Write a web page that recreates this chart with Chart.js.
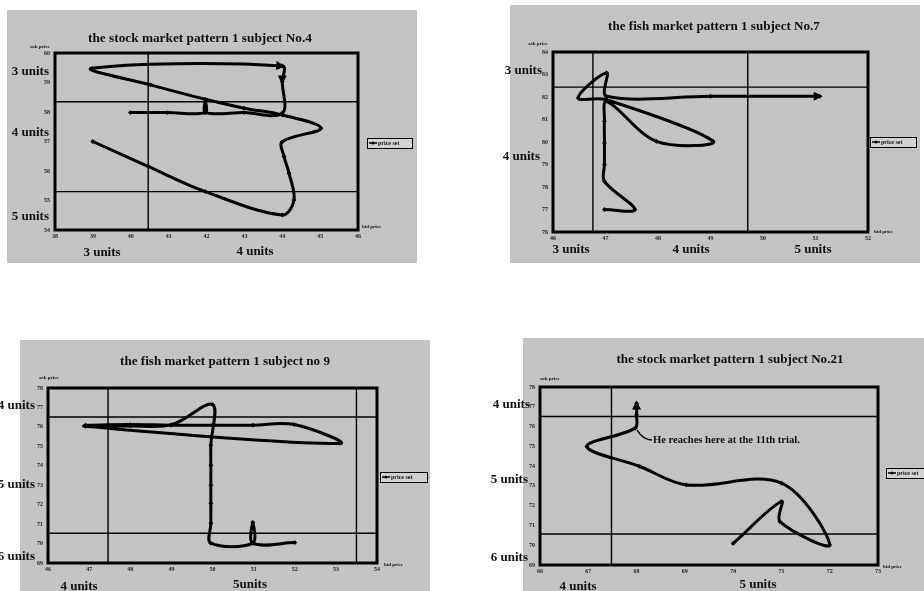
<!DOCTYPE html>
<html><head><meta charset="utf-8"><title>price set patterns</title>
<script src="https://cdn.jsdelivr.net/npm/chart.js@4.4.1/dist/chart.umd.min.js"></script>
<style>
html,body{margin:0;padding:0;background:#fff;}
body{position:relative;width:924px;height:591px;overflow:hidden;}
canvas{position:absolute;display:block;}
#c1{left:0;top:0}#c2{left:462px;top:0}#c3{left:0;top:295px}#c4{left:462px;top:295px}
</style></head><body>
<canvas id="c1" width="462" height="295"></canvas>
<canvas id="c2" width="462" height="295"></canvas>
<canvas id="c3" width="462" height="296"></canvas>
<canvas id="c4" width="462" height="296"></canvas>
<script>
// ---------------- data ----------------
const seriesName = 'price set';
const axisNameX = 'bid price';
const axisNameY = 'ask price';

// Panel 1
const p1Title = 'the stock market pattern 1 subject No.4';
const p1XTicks = [38, 39, 40, 41, 42, 43, 44, 45, 46];
const p1YTicks = [54, 55, 56, 57, 58, 59, 60];
const p1Bid = [39.0, 40.47, 41.97, 44.0, 44.31, 44.18, 44.05, 44.0, 45.02, 44.0, 42.99, 41.97, 40.52, 38.97, 44.0, 44.0, 44.0, 42.99, 41.97, 41.97, 41.97, 40.96, 39.99];
const p1Ask = [57.0, 56.15, 55.3, 54.51, 55.02, 55.92, 56.48, 56.99, 57.45, 57.9, 58.13, 58.43, 58.92, 59.48, 59.56, 59.03, 57.96, 57.98, 57.98, 58.35, 57.98, 57.98, 57.98];
const p1RefBid = [40.46];
const p1RefAsk = [58.35, 55.3];
const p1UnitsLeft = ['3 units', '4 units', '5 units'];
const p1UnitsBottom = ['3 units', '4 units'];
const p1Arrows = [14, 15];

// Panel 2
const p2Title = 'the fish market pattern 1 subject No.7';
const p2XTicks = [46, 47, 48, 49, 50, 51, 52];
const p2YTicks = [76, 77, 78, 79, 80, 81, 82, 83, 84];
const p2Bid = [46.98, 47.56, 46.98, 46.98, 46.98, 46.98, 47.02, 47.97, 49.05, 47.02, 46.48, 47.02, 47.02, 49.0, 51.08];
const p2Ask = [77.0, 77.0, 78.25, 79.0, 79.96, 80.92, 81.81, 80.03, 80.03, 81.88, 81.96, 83.07, 82.03, 82.03, 82.03];
const p2RefBid = [46.76, 49.71];
const p2RefAsk = [82.44];
const p2UnitsLeft = ['3 units', '4 units'];
const p2UnitsBottom = ['3 units', '4 units', '5 units'];
const p2Arrows = [14];

// Panel 3
const p3Title = 'the fish market pattern 1 subject no 9';
const p3XTicks = [46, 47, 48, 49, 50, 51, 52, 53, 54];
const p3YTicks = [69, 70, 71, 72, 73, 74, 75, 76, 77, 78];
const p3Bid = [52.0, 50.98, 50.98, 50.98, 49.96, 49.96, 49.96, 49.96, 49.96, 49.96, 50.0, 49.02, 48.01, 46.91, 53.09, 51.99, 50.98, 50.0, 48.98, 48.0, 46.91];
const p3Ask = [70.05, 70.02, 71.09, 70.02, 70.02, 71.04, 72.07, 73.0, 74.03, 75.06, 77.15, 76.12, 76.05, 76.03, 75.15, 76.12, 76.09, 76.09, 76.09, 76.12, 76.09];
const p3RefBid = [47.46, 53.5];
const p3RefAsk = [76.51, 70.53];
const p3UnitsLeft = ['4 units', '5 units', '6 units'];
const p3UnitsBottom = ['4 units', '5units'];
const p3Arrows = [];

// Panel 4
const p4Title = 'the stock market pattern 1 subject No.21';
const p4XTicks = [66, 67, 68, 69, 70, 71, 72, 73];
const p4YTicks = [69, 70, 71, 72, 73, 74, 75, 76, 77, 78];
const p4Bid = [70.0, 71.0, 70.97, 72.0, 71.0, 69.03, 68.07, 66.97, 67.97, 68.0, 68.0];
const p4Ask = [70.09, 72.21, 71.19, 70.01, 73.14, 73.05, 73.98, 74.99, 75.92, 76.6, 77.16];
const p4RefBid = [67.48];
const p4RefAsk = [76.51, 70.57];
const p4UnitsLeft = ['4 units', '5 units', '6 units'];
const p4UnitsBottom = ['4 units', '5 units'];
const p4Arrows = [10];
const p4Note = 'He reaches here at the 11th trial.';
const p4NoteAt = 8;

// ---------------- layout (positions only) ----------------
const FONT = 'Liberation Serif';
const GREY = '#c3c3c3';
const LAYOUT = {
  c1: {grey:[7,10,410,253], area:[55,358,53,230], title:[200,39,224], ask:[40,47], bid:[362,227],
       legend:[367,138,45,10], left:[[49,72],[49,133],[49,217]], bottom:[[102,253],[255,252]]},
  c2: {grey:[48,5,410,258], area:[91,406,52,232], title:[252,27,212], ask:[76,44], bid:[412,232],
       legend:[408,137,46,10], left:[[80,71],[78,157]], bottom:[[109,250],[229,250],[351,250]]},
  c3: {grey:[20,45,410,251], area:[48,377,93,268], title:[225,67,210], ask:[49,83], bid:[384,270],
       legend:[380,177,47,10], left:[[35,111],[35,190],[35,262]], bottom:[[79,292],[250,290]]},
  c4: {grey:[61,43,401,253], area:[78,416,92,270], title:[268,65,227], ask:[88,84], bid:[421,272],
       legend:[424,173,46,10], left:[[68,110],[66,185],[66,263]], bottom:[[116,292],[296,290]],
       note:[191,145,147]}
};

function fitSize(ctx, text, width, weight) {
  ctx.font = weight + ' 20px "' + FONT + '"';
  return 20 * width / ctx.measureText(text).width;
}

function drawArrowHead(ctx, meta, i) {
  const p = meta.data[i];
  if (!p) return;
  let fx = p.cp1x, fy = p.cp1y;
  if (fx === undefined || (Math.abs(fx - p.x) < 1 && Math.abs(fy - p.y) < 1)) {
    const q = meta.data[i - 1]; fx = q.x; fy = q.y;
  }
  const a = Math.atan2(p.y - fy, p.x - fx);
  const L = 9, W = 4.5;
  const tx = p.x + Math.cos(a) * 3, ty = p.y + Math.sin(a) * 3;
  ctx.beginPath();
  ctx.moveTo(tx, ty);
  ctx.lineTo(tx - L * Math.cos(a) + W * Math.sin(a), ty - L * Math.sin(a) - W * Math.cos(a));
  ctx.lineTo(tx - L * Math.cos(a) - W * Math.sin(a), ty - L * Math.sin(a) + W * Math.cos(a));
  ctx.closePath();
  ctx.fillStyle = '#000';
  ctx.fill();
}

function panelPlugin(P, spec) {
  return {
    id: 'panelDeco',
    beforeDraw(chart) {
      const ctx = chart.ctx;
      ctx.save();
      ctx.fillStyle = GREY;
      ctx.fillRect(P.grey[0], P.grey[1], P.grey[2], P.grey[3]);
      ctx.restore();
    },
    afterDatasetsDraw(chart) {
      const ctx = chart.ctx;
      const meta = chart.getDatasetMeta(0);
      ctx.save();
      spec.arrows.forEach(i => drawArrowHead(ctx, meta, i));
      if (spec.note) {
        const p = meta.data[spec.noteAt];
        const [nx, ny, nw] = P.note;
        ctx.strokeStyle = '#000'; ctx.lineWidth = 1.5;
        ctx.beginPath();
        ctx.moveTo(p.x + 2, p.y + 2);
        ctx.quadraticCurveTo(p.x + 8, ny, nx - 1, ny);
        ctx.stroke();
        const s = fitSize(ctx, spec.note, nw, 'bold');
        ctx.font = 'bold ' + s.toFixed(2) + 'px "' + FONT + '"';
        ctx.fillStyle = '#111'; ctx.textAlign = 'left'; ctx.textBaseline = 'middle';
        ctx.fillText(spec.note, nx, ny);
      }
      ctx.restore();
    },
    afterDraw(chart) {
      const ctx = chart.ctx, a = chart.chartArea;
      ctx.save();
      ctx.strokeStyle = '#000'; ctx.lineWidth = 3;
      ctx.strokeRect(a.left, a.top, a.right - a.left, a.bottom - a.top);
      // title
      const ts = fitSize(ctx, spec.title, P.title[2], 'bold');
      ctx.font = 'bold ' + ts.toFixed(2) + 'px "' + FONT + '"';
      ctx.fillStyle = '#111'; ctx.textAlign = 'center'; ctx.textBaseline = 'middle';
      ctx.fillText(spec.title, P.title[0], P.title[1]);
      // axis names
      ctx.font = 'bold 5px "' + FONT + '"';
      ctx.textAlign = 'center';
      ctx.fillText(axisNameY, P.ask[0], P.ask[1]);
      ctx.textAlign = 'left';
      ctx.fillText(axisNameX, P.bid[0], P.bid[1]);
      // legend
      const [lx, ly, lw, lh] = P.legend;
      ctx.fillStyle = '#d2d2d2'; ctx.fillRect(lx, ly, lw, lh);
      ctx.strokeStyle = '#000'; ctx.lineWidth = 1;
      ctx.strokeRect(lx + 0.5, ly + 0.5, lw, lh);
      ctx.lineWidth = 1.5;
      ctx.beginPath(); ctx.moveTo(lx + 2, ly + lh / 2); ctx.lineTo(lx + 10, ly + lh / 2); ctx.stroke();
      ctx.fillStyle = '#000';
      ctx.beginPath(); ctx.arc(lx + 6, ly + lh / 2, 1.5, 0, Math.PI * 2); ctx.fill();
      ctx.font = 'bold 6px "' + FONT + '"';
      ctx.textAlign = 'left'; ctx.fillStyle = '#111';
      ctx.fillText(chart.data.datasets[0].label, lx + 11, ly + lh / 2 + 0.5);
      // unit labels
      ctx.font = 'bold 13px "' + FONT + '"';
      ctx.textAlign = 'right';
      spec.unitsLeft.forEach((t, k) => ctx.fillText(t, P.left[k][0], P.left[k][1]));
      ctx.textAlign = 'center';
      spec.unitsBottom.forEach((t, k) => ctx.fillText(t, P.bottom[k][0], P.bottom[k][1]));
      ctx.restore();
    }
  };
}

function makePanel(id, spec) {
  const P = LAYOUT[id];
  const canvas = document.getElementById(id);
  const W = canvas.width, H = canvas.height;
  const [aL, aR, aT, aB] = P.area;
  const xMin = spec.xTicks[0], xMax = spec.xTicks[spec.xTicks.length - 1];
  const yMin = spec.yTicks[0], yMax = spec.yTicks[spec.yTicks.length - 1];
  const main = {
    label: seriesName,
    data: spec.bid.map((b, i) => ({x: b, y: spec.ask[i]})),
    showLine: true, borderColor: '#000', backgroundColor: '#000',
    borderWidth: 3, tension: 0.35, pointRadius: 2.4, pointStyle: 'rectRot',
    pointBorderWidth: 0, borderCapStyle: 'round', borderJoinStyle: 'round'
  };
  const refs = [];
  spec.refBid.forEach(v => refs.push({label: 'ref', data: [{x: v, y: yMin}, {x: v, y: yMax}],
    showLine: true, borderColor: '#000', borderWidth: 1.4, pointRadius: 0, tension: 0}));
  spec.refAsk.forEach(v => refs.push({label: 'ref', data: [{x: xMin, y: v}, {x: xMax, y: v}],
    showLine: true, borderColor: '#000', borderWidth: 1.4, pointRadius: 0, tension: 0}));
  const tickFont = {family: FONT, size: 6, weight: 'bold'};
  new Chart(canvas, {
    type: 'scatter',
    data: {datasets: [main].concat(refs)},
    options: {
      responsive: false, animation: false, devicePixelRatio: 1,
      layout: {padding: {left: 0, top: aT, right: W - aR, bottom: 0}},
      plugins: {legend: {display: false}, tooltip: {enabled: false}, title: {display: false}},
      scales: {
        x: {type: 'linear', min: xMin, max: xMax,
            ticks: {stepSize: 1, font: tickFont, color: '#222', padding: 3, maxRotation: 0, autoSkip: false},
            grid: {display: false, drawTicks: false}, border: {display: false},
            afterFit: s => { s.height = H - aB; }},
        y: {type: 'linear', min: yMin, max: yMax,
            ticks: {stepSize: 1, font: tickFont, color: '#222', padding: 5, autoSkip: false},
            grid: {display: false, drawTicks: false}, border: {display: false},
            afterFit: s => { s.width = aL; }}
      }
    },
    plugins: [panelPlugin(P, spec)]
  });
}

makePanel('c1', {title: p1Title, xTicks: p1XTicks, yTicks: p1YTicks, bid: p1Bid, ask: p1Ask,
  refBid: p1RefBid, refAsk: p1RefAsk, unitsLeft: p1UnitsLeft, unitsBottom: p1UnitsBottom, arrows: p1Arrows});
makePanel('c2', {title: p2Title, xTicks: p2XTicks, yTicks: p2YTicks, bid: p2Bid, ask: p2Ask,
  refBid: p2RefBid, refAsk: p2RefAsk, unitsLeft: p2UnitsLeft, unitsBottom: p2UnitsBottom, arrows: p2Arrows});
makePanel('c3', {title: p3Title, xTicks: p3XTicks, yTicks: p3YTicks, bid: p3Bid, ask: p3Ask,
  refBid: p3RefBid, refAsk: p3RefAsk, unitsLeft: p3UnitsLeft, unitsBottom: p3UnitsBottom, arrows: p3Arrows});
makePanel('c4', {title: p4Title, xTicks: p4XTicks, yTicks: p4YTicks, bid: p4Bid, ask: p4Ask,
  refBid: p4RefBid, refAsk: p4RefAsk, unitsLeft: p4UnitsLeft, unitsBottom: p4UnitsBottom, arrows: p4Arrows,
  note: p4Note, noteAt: p4NoteAt});
</script>
</body></html>
